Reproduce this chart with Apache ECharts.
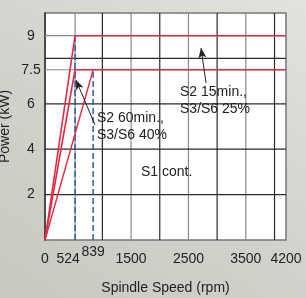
<!DOCTYPE html>
<html>
<head>
<meta charset="utf-8">
<script src="https://cdn.jsdelivr.net/npm/echarts@6/dist/echarts.min.js"></script>
<style>
html, body { margin: 0; padding: 0; }
#tu1 { width: 306px; height: 298px; background: linear-gradient(215deg, #e2e2de 0%, #d3d3cd 50%, #c8c8c1 100%); }
</style>
</head>
<body>
<div id="tu1"></div>
<script>
// 数据
var xTicks = [0, 524, 1500, 2500, 3500, 4200];
var xTicksRaised = [839];
var yTicks = [2, 4, 6, 7.5, 9];
var xGridDark = [1000, 2000, 3000, 4000];
var xGridLight = [524, 1500, 2500, 3500];
var yGridDark = [2, 4, 6, 8];
var yGridLight = [7.5, 9];

var s2short = [[0, 0], [524, 9], [4200, 9]];      // S2 15min
var s2long = [[0, 0], [524, 7.5], [4200, 7.5]];   // S2 60min
var s1cont = [[0, 0], [839, 7.5]];                // S1 cont.
var baseSpeed = [[524, 0], [524, 9]];
var baseSpeed2 = [[839, 0], [839, 7.5]];

var arrow1 = [[871, 5.07], [540, 7.05]];
var arrow2 = [[2806, 6.92], [2719, 8.46]];
var notes = [
    { pos: [906, 5.35], text: 'S2 60min.,\nS3/S6 40%' },
    { pos: [2353, 6.5], text: 'S2 15min.,\nS3/S6 25%' },
    { pos: [1673, 2.97], text: 'S1 cont.' }
];

var X_MAX = 4200, Y_MAX = 10;

// 网格线: [x, y, 方向(0竖/1横), 深浅(0浅/1深)]
var gridData = [];
xGridLight.forEach(function (v) { gridData.push([v, 0, 0, 0]); });
xGridDark.forEach(function (v) { gridData.push([v, 0, 0, 1]); });
yGridLight.forEach(function (v) { gridData.push([0, v, 1, 0]); });
yGridDark.forEach(function (v) { gridData.push([0, v, 1, 1]); });

var myChart1 = echarts.init(document.getElementById('tu1'));

function arrowLine(pts) {
    return {
        type: 'line', data: pts, silent: true, z: 5,
        symbol: 'none', lineStyle: { opacity: 0 },
        markLine: {
            silent: true, symbol: ['none', 'arrow'], symbolSize: [6, 10], animation: false,
            label: { show: false },
            lineStyle: { color: '#222', width: 1, type: 'solid' },
            data: [[{ coord: pts[0] }, { coord: pts[1] }]]
        }
    };
}

var option1 = {
    animation: false,
    textStyle: { fontFamily: 'Liberation Sans' },
    grid: {
        left: 45, right: 20, top: 13, bottom: 58, outerBoundsMode: 'none',
        show: true, backgroundColor: '#fff', borderColor: '#777', borderWidth: 1.5
    },
    xAxis: [{
        type: 'value', min: 0, max: X_MAX,
        name: 'Spindle Speed (rpm)', nameLocation: 'middle', nameGap: 41, nameMoveOverlap: false,
        nameTextStyle: { color: '#222', fontSize: 14 },
        axisLine: { show: false },
        axisTick: { show: false },
        splitLine: { show: false },
        axisLabel: {
            customValues: xTicks, color: '#222', fontSize: 14, margin: 12, hideOverlap: false,
            formatter: function (v) { return v === 524 ? '{l|' + v + '}' : String(v); },
            rich: { l: { fontSize: 14, color: '#222', padding: [0, 14, 0, 0] } }
        }
    }, {
        type: 'value', min: 0, max: X_MAX, position: 'bottom',
        axisLine: { show: false },
        axisTick: { show: false },
        splitLine: { show: false },
        axisLabel: {
            customValues: xTicksRaised, color: '#222', fontSize: 14, margin: 5,
            formatter: function (v) { return String(v); }
        }
    }],
    yAxis: {
        type: 'value', min: 0, max: Y_MAX,
        name: 'Power (kW)', nameLocation: 'middle', nameGap: 33, nameMoveOverlap: false,
        nameTextStyle: { color: '#222', fontSize: 14 },
        axisLine: { show: true, lineStyle: { color: '#333', width: 1.5 } },
        axisTick: { show: false },
        splitLine: { show: false },
        axisLabel: { customValues: yTicks, color: '#222', fontSize: 14, margin: 14, align: 'center' }
    },
    series: [
        {
            type: 'custom', data: gridData, silent: true, z: 1,
            encode: { x: 0, y: 1 },
            renderItem: function (params, api) {
                var vertical = api.value(2) === 0;
                var a, b;
                if (vertical) {
                    a = api.coord([api.value(0), 0]);
                    b = api.coord([api.value(0), Y_MAX]);
                } else {
                    a = api.coord([0, api.value(1)]);
                    b = api.coord([X_MAX, api.value(1)]);
                }
                return {
                    type: 'line',
                    shape: { x1: a[0], y1: a[1], x2: b[0], y2: b[1] },
                    style: { stroke: api.value(3) === 1 ? '#2a2a2a' : '#8a8a8a', lineWidth: 1.2 }
                };
            }
        },
        {
            type: 'line', data: baseSpeed, symbol: 'none', z: 3,
            lineStyle: { color: '#2a5caa', width: 1.5, type: [6, 3] }
        },
        {
            type: 'line', data: baseSpeed2, symbol: 'none', z: 3,
            lineStyle: { color: '#2a5caa', width: 1.5, type: [6, 3] }
        },
        {
            type: 'line', data: s2short, symbol: 'none', z: 4,
            lineStyle: { color: '#e62a44', width: 1.6 }
        },
        {
            type: 'line', data: s2long, symbol: 'none', z: 4,
            lineStyle: { color: '#e62a44', width: 1.6 }
        },
        {
            type: 'line', data: s1cont, symbol: 'none', z: 4,
            lineStyle: { color: '#e62a44', width: 1.4 }
        },
        arrowLine(arrow1),
        arrowLine(arrow2)
    ]
};

myChart1.setOption(option1);

var texts = notes.map(function (n) {
    var p = myChart1.convertToPixel({ gridIndex: 0 }, n.pos);
    return {
        type: 'text', left: p[0], top: p[1] - 9, z: 10,
        style: { text: n.text, fill: '#222', font: '14px "Liberation Sans"', lineHeight: 17 }
    };
});
myChart1.setOption({ graphic: texts });
</script>
</body>
</html>
